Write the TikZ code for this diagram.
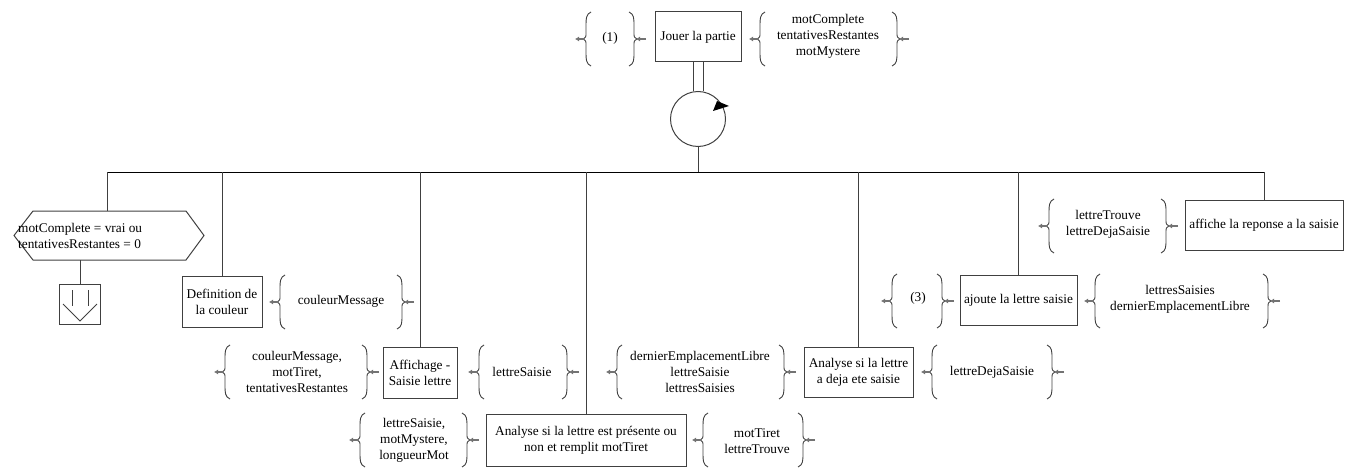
\documentclass[tikz,border=0pt]{standalone}
\usepackage{fontspec}
\setmainfont{Liberation Serif}
\usetikzlibrary{arrows.meta}
\tikzset{
    module/.style = {draw = black!75, line width = 1pt, align = center, inner sep = 2pt},
    donnees/.style = {align = center, inner sep = 0pt},
    lien/.style = {draw = black!75, line width = 1pt},
    pics/accg/.style = {code = {
        \draw [black!75, line width = 0.9pt] (8, -27) .. controls (3, -25) and (3, -20) .. (3, -14) -- (3, -6) .. controls (3, -2) .. (0, 0) .. controls (3, 2) .. (3, 6) -- (3, 14) .. controls (3, 20) and (3, 25) .. (8, 27);
        \draw [black!55, line width = 2pt, -{Latex[length = 4pt, width = 5pt]}] (2, 0) -- (-8, 0);
    }},
    pics/accd/.style = {code = {
        \draw [black!75, line width = 0.9pt] (-8, -27) .. controls (-3, -25) and (-3, -20) .. (-3, -14) -- (-3, -6) .. controls (-3, -2) .. (0, 0) .. controls (-3, 2) .. (-3, 6) -- (-3, 14) .. controls (-3, 20) and (-3, 25) .. (-8, 27);
        \draw [black!55, line width = 2pt, -{Latex[length = 4pt, width = 5pt]}] (9, 0) -- (-1, 0);
    }}
}
\begin{document}
\begin{tikzpicture}[x = 1pt, y = -1pt, font = \fontsize{13.3pt}{16pt}\selectfont]
        \useasboundingbox (0, 0) rectangle (1348, 476);
        \node [module, minimum width = 86pt, minimum height = 50pt] (jouer) at (698, 37) {Jouer la partie};
        \pic at (583, 39) {accg};
        \node [donnees] (entreesJouer) at (610, 38) {(1)};
        \pic at (637, 39) {accd};
        \pic at (757, 39) {accg};
        \node [donnees] (sortiesJouer) at (828, 36) {motComplete\\tentativesRestantes\\motMystere};
        \pic at (900, 39) {accd};
        \node [draw = black!75, line width = 1pt, circle, minimum size = 55pt, inner sep = 0pt] (boucle) at (698, 119) {};
        \draw [lien] ([xshift = -5pt] jouer.south) -- ([xshift = -5pt] boucle.north);
        \draw [lien] ([xshift = 5pt] jouer.south) -- ([xshift = 5pt] boucle.north);
        \fill (713, 111) -- (729, 106) -- (717, 101) -- cycle;
        \coordinate (barreG) at (107, 172);
        \coordinate (barreD) at (1264, 172);
        \draw [lien] (boucle.south) -- (boucle.south |- barreG);
        \draw [line width = 1pt] (barreG) -- (barreD);
        \draw [lien] (14, 235.5) -- (33, 211) -- (186, 211) -- (204, 235.5) -- (186, 260) -- (33, 260) -- cycle;
        \node [donnees, anchor = west, align = left] (condition) at (18, 235.5) {motComplete = vrai ou\\tentativesRestantes = 0};
        \coordinate (conditionHaut) at (107, 211);
        \coordinate (conditionBas) at (80, 260);
        \draw [lien] (barreG) -- (conditionHaut);
        \node [module, minimum width = 41pt, minimum height = 40pt] (sortie) at (80, 304) {};
        \draw [lien] (conditionBas) -- (sortie.north);
        \draw [lien] ([shift = {(-8, -14)}] sortie.center) -- ([shift = {(-8, 2)}] sortie.center);
        \draw [lien] ([shift = {(8, -14)}] sortie.center) -- ([shift = {(8, 2)}] sortie.center);
        \draw [lien] ([shift = {(-17, 0)}] sortie.center) -- ([shift = {(0, 17)}] sortie.center) -- ([shift = {(17, 0)}] sortie.center);
        \node [module, minimum width = 80pt, minimum height = 51pt] (couleur) at (222, 301.5) {Definition de\\la couleur};
        \draw [lien] (couleur.north) -- (couleur.north |- barreG);
        \pic at (277, 302) {accg};
        \node [donnees] (sortiesCouleur) at (341, 301) {couleurMessage};
        \pic at (405, 302) {accd};
        \node [module, minimum width = 74pt, minimum height = 51pt] (affichage) at (420, 372.5) {Affichage -\\Saisie lettre};
        \draw [lien] (affichage.north) -- (affichage.north |- barreG);
        \pic at (222, 372) {accg};
        \node [donnees] (entreesAffichage) at (297, 372) {couleurMessage,\\motTiret,\\tentativesRestantes};
        \pic at (370, 372) {accd};
        \pic at (476, 372) {accg};
        \node [donnees] (sortiesAffichage) at (522, 372) {lettreSaisie};
        \pic at (570, 372) {accd};
        \node [module, minimum width = 200pt, minimum height = 52pt] (presente) at (586, 440) {Analyse si la lettre est présente ou\\non et remplit motTiret};
        \draw [lien] (presente.north) -- (presente.north |- barreG);
        \pic at (357, 440) {accg};
        \node [donnees] (entreesPresente) at (414, 440) {lettreSaisie,\\motMystere,\\longueurMot};
        \pic at (470, 440) {accd};
        \pic at (700, 440) {accg};
        \node [donnees] (sortiesPresente) at (757, 441) {motTiret\\lettreTrouve};
        \pic at (806, 440) {accd};
        \node [module, minimum width = 109pt, minimum height = 50pt] (deja) at (858.5, 372) {Analyse si la lettre\\a deja ete saisie};
        \draw [lien] (deja.north) -- (deja.north |- barreG);
        \pic at (614, 372) {accg};
        \node [donnees] (entreesDeja) at (700, 372) {dernierEmplacementLibre\\lettreSaisie\\lettresSaisies};
        \pic at (787, 372) {accd};
        \pic at (929, 372) {accg};
        \node [donnees] (sortiesDeja) at (992, 372) {lettreDejaSaisie};
        \pic at (1055, 372) {accd};
        \node [module, minimum width = 117pt, minimum height = 50pt] (ajoute) at (1018.5, 300) {ajoute la lettre saisie};
        \draw [lien] (ajoute.north) -- (ajoute.north |- barreG);
        \pic at (889, 301) {accg};
        \node [donnees] (entreesAjoute) at (918, 298) {(3)};
        \pic at (945, 301) {accd};
        \pic at (1092, 301) {accg};
        \node [donnees] (sortiesAjoute) at (1180, 299) {lettresSaisies\\dernierEmplacementLibre};
        \pic at (1271, 301) {accd};
        \node [module, minimum width = 158pt, minimum height = 50pt] (reponse) at (1264, 225) {affiche la reponse a la saisie};
        \draw [lien] (reponse.north) -- (reponse.north |- barreG);
        \pic at (1046, 226) {accg};
        \node [donnees] (entreesReponse) at (1108, 224) {lettreTrouve\\lettreDejaSaisie};
        \pic at (1169, 226) {accd};
    \end{tikzpicture}
\end{document}
